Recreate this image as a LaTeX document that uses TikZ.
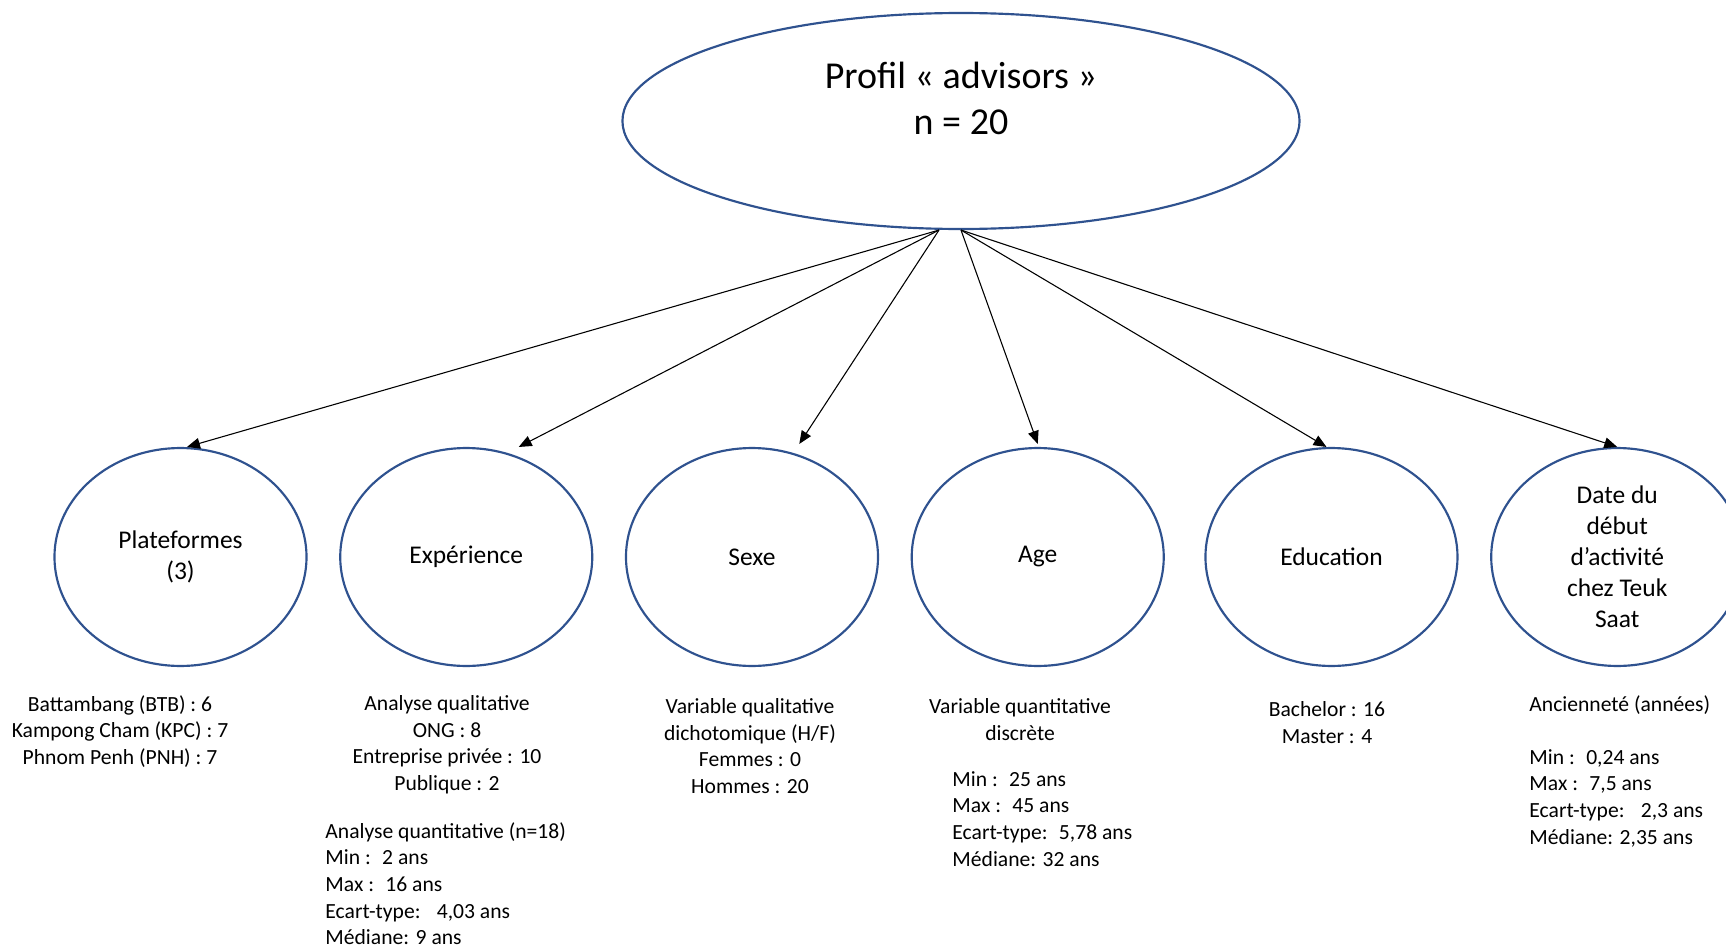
\documentclass[tikz,border=0pt]{standalone}
\usepackage{fontspec}
\setmainfont{Carlito}
\usetikzlibrary{arrows.meta, positioning, shapes.geometric}
\definecolor{cbord}{RGB}{47,82,143}

\begin{document}
\begin{tikzpicture}[
  x=0.463pt, y=-0.463pt,
  node distance = 14.6pt,
  rond/.style  = {ellipse, draw=cbord, line width=1pt,
                  minimum width=116.7pt, minimum height=100.9pt,
                  inner sep=0pt, align=center,
                  font=\fontsize{11.8}{14.35}\selectfont},
  titre/.style = {ellipse, draw=cbord, line width=1pt,
                  minimum width=313.5pt, minimum height=100pt,
                  inner sep=0pt, align=center, text depth=21pt,
                  font=\fontsize{17.6}{21.3}\selectfont},
  info/.style  = {inner sep=0pt, font=\fontsize{10}{12.35}\selectfont},
  arr/.style   = {-{Triangle[length=6pt, width=5pt]}, line width=0.5pt},
]
\useasboundingbox (0,0) rectangle (1726,947);
\node[titre] (profil) at (961,121) {Profil «~advisors~»\\n = 20};
\node[rond] (plat) at (180.5,557) {Plateformes\\(3)};
\node[rond, right=of plat]      (exp)  {Expérience};
\node[rond, right=of exp]       (sexe) {Sexe};
\node[rond, right=of sexe]      (age)  {Age};
\node[rond, right=18.3pt of age] (edu) {Education};
\node[rond, right=of edu]       (date) {Date du\\début\\d’activité\\chez Teuk\\Saat};
\node[info, align=center, anchor=north] (platinfo) at (120,695)
  {Battambang (BTB) : 6\\Kampong Cham (KPC) : 7\\Phnom Penh (PNH) : 7};
\node[info, align=center, anchor=north] (expqual) at (447,695)
  {Analyse qualitative\\ONG : 8\\Entreprise privée : 10\\Publique : 2};
\node[info, align=left, anchor=north west] (expquant) at (325,822)
  {Analyse quantitative (n=18)\\Min :~ 2 ans\\Max :~ 16 ans\\Ecart-type:~~ 4,03 ans\\Médiane: 9 ans};
\node[info, align=center, anchor=north] (sexeinfo) at (750,698)
  {Variable qualitative\\dichotomique (H/F)\\Femmes : 0\\Hommes : 20};
\node[info, align=center, anchor=north] (agequal) at (1020,698)
  {Variable quantitative\\discrète};
\node[info, align=left, anchor=north west] (agequant) at (952,771)
  {Min :~ 25 ans\\Max :~ 45 ans\\Ecart-type:~ 5,78 ans\\Médiane: 32 ans};
\node[info, align=center, anchor=north] (eduinfo) at (1327,701)
  {Bachelor : 16\\Master : 4};
\node[info, align=left, anchor=north west] (dateinfo) at (1529,695)
  {Ancienneté (années)\\[12.2pt]Min :~ 0,24 ans\\Max :~ 7,5 ans\\Ecart-type:~~ 2,3 ans\\Médiane: 2,35 ans};
\draw[arr] ([xshift=-10.2pt]profil.south) -- ([xshift=3pt]plat.north);
\draw[arr] ([xshift=-10.2pt]profil.south) -- ([xshift=24.3pt]exp.north);
\draw[arr] ([xshift=-10.2pt]profil.south) -- ([xshift=21.9pt, yshift=1.4pt]sexe.north);
\draw[arr] (profil.south) -- ([yshift=1.4pt]age.north);
\draw[arr] (profil.south) -- ([xshift=-2.3pt]edu.north);
\draw[arr] (profil.south) -- (date.north);
\end{tikzpicture}
\end{document}
